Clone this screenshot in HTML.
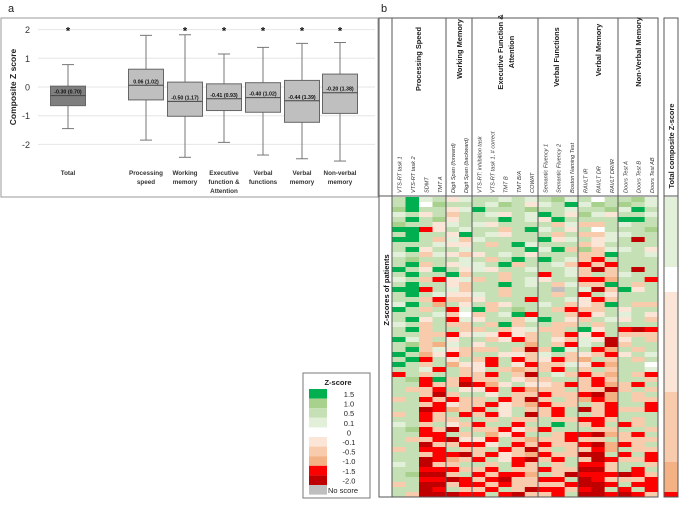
<!DOCTYPE html>
<html><head><meta charset="utf-8"><style>
html,body{margin:0;padding:0;background:#fff;width:685px;height:505px;overflow:hidden}
svg{display:block;font-family:"Liberation Sans",sans-serif}
</style></head><body>
<svg id="fig" width="685" height="505" viewBox="0 0 685 505">
<text x="8" y="12" font-size="11" fill="#222">a</text>
<text x="381" y="12" font-size="11" fill="#222">b</text>
<rect x="1" y="18" width="377" height="179" fill="#fff" stroke="#999" stroke-width="1"/>
<g id="boxplot"></g>
<g id="heat"></g>
<g id="legend"></g>
</svg>
<script>
// ---- Panel a data ----
const categories = [["Total"],["Processing","speed"],["Working","memory"],["Executive","function &","Attention"],["Verbal","functions"],["Verbal","memory"],["Non-verbal","memory"]];
const whiskerHigh = [0.78, 1.8, 1.82, 1.15, 1.38, 1.52, 1.55];
const q3Values = [0.03, 0.62, 0.17, 0.11, 0.15, 0.23, 0.45];
const medianValues = [-0.30, 0.06, -0.50, -0.41, -0.37, -0.48, -0.20];
const q1Values = [-0.65, -0.45, -1.02, -0.82, -0.88, -1.23, -0.92];
const whiskerLow = [-1.45, -1.85, -2.45, -1.93, -2.37, -2.5, -2.58];
const boxLabels = ["-0.30 (0.70)","0.06 (1.02)","-0.50 (1.17)","-0.41 (0.93)","-0.40 (1.02)","-0.44 (1.39)","-0.20 (1.38)"];
const significant = [true,false,true,true,true,true,true];
const yTicks = [2,1,0,-1,-2];

// ---- Panel b data ----
const groupNames = [["Processing Speed"],["Working Memory"],["Executive Function &","Attention"],["Verbal Functions"],["Verbal Memory"],["Non-Verbal Memory"]];
const groupSizes = [4,2,5,3,3,3];
const colNames = ["VTS-RT task 1","VTS-RT task 2","SDMT","TMT A","Digit Span (forward)","Digit Span (backward)","VTS-RT: inhibition task","VTS-RT task 1, # correct","TMT B","TMT B/A","COWAT","Semantic Fluency 1","Semantic Fluency 2","Boston Naming Test","RAVLT IR","RAVLT DR","RAVLT DR/IR","Doors Test A","Doors Test B","Doors Test AB"];
const legendLevels = ["G","g","h","i","w","a","b","c","R","D","x"];
const legendLabels = ["1.5","1.0","0.5","0.1","0","-0.1","-0.5","-1.0","-1.5","-2.0","No score"];
const heatRows = [
"hGih ai hhihi hgi hwh hgi","hGwg hh higha ihG igh ghi","gGhh ai Ghhhg hhi hhg iGh","ihah bh hiahi Gha gia hhi",
"hGhg ah hhGhi aGh hhh GGh","ghha ih iahhh hbi bbh ihh","GGRa hi hhbhG iha hwh hhg","hGhh aG hiahh hbh bbi ihh",
"GGhb ib ihhhh Gai hai hDh","hhhi aa hbhGi hhh bah hhh","hGah hi hhhhG iGb gbi iha","ihbi ab ahiha hhh bbG hhi",
"hghh hi hbhGh Ghi bRh hhh","hGbh ai ihGbh hib RbR hhh","GhaG ha iahhi hhi bDb hDh","hGhh Gb hhbhh Rhi bhb ihh",
"ihbR ai bhbhi ahh RRc hhR","hGhh ab hhGhi hbi bbG hbh","GGRh ib hhbhh hxh iDb Gah","hGhi aa ihbhh hbh Rha hhh",
"hhbR bb ahhhR hhi aRb hhh","iGhc ha hbahh ihb abG hbb","Ghbh Ri Gbhgh hbR bbh ahh","hhhi bw bhiGR hhb Rah iha",
"hGah Ri ahhbi Gha bhi ahb","ihbh bb hbGbh hbb hbh hhh","hGbh hb bhbai bbh Gah RDR","hhbb Ra iaRab hbR aRh bbb",
"Gibh ah hbaRb hab iaD ahb","hgbc ih ahhhc hbR ihD bhh","hGbi ab bbhbD bGi hRc hbh","Ghca Rb hhaab ihb abR ahi",
"hGRh ah bRhRb aRb chb hbh","Ghbh ca aRhaR bbi aRc hhw","hhiR hb ahbcb bRh bhb hhi","Rhbh hb bRhbD hib Rbc hbR",
"hgRG bR bbhab bhh bRb hhb","hhRb bD Rcaha abR bRc bRh","hbbR ha aRhRc bbh bbD bhb","hhbD bh hahbb Rbb RDc hbh",
"bhRb Rb bhRbD bhb cRc hbb","hhbR ab bRabc Rbb hbR hhR","hhDR cb Rhahb bRh DbR bbR","bhRb hR bRahD bRh hbR hhh",
"hhRb bh hbhbb hbb RRb hbh","ihbh ab RhhRh hGh bRh Rbh","hgRb Dh bbRab Rhh hbb hhb","hhRR hb hcaRh hbR RDc bRh",
"hbbR Da aRhbc bbR bbh bbb","hhDb bR RahRb Rbb RDc Rbh","bhRR hb bhRbD bhb bRc hbb","hhbR RD bRabc Rbb DDh RhR",
"hhDR cb RhaRD bRh bDR bbR","ihDb bh hbhRb hbh RRb hhb","hhRR Rb bRhbb Rbb DDb hRh","hgDD bh RbRRc hbD RRR DRb",
"hhRR DR bRDbb RRh DRb bbR","bhDD bR RbRbb bbR DDR hRR","hhDR hb bRhbD RRb RDh RhR","hbDD DR RhRDb bRh DDR DRb"];
const totalBands = ["i","i","i","i","i","i","i","i","i","i","i","i","i","i","w","w","w","w","w","a","a","a","a","a","a","a","a","a","a","a","a","a","a","a","a","a","a","a","a","b","b","b","b","b","b","b","b","b","b","b","b","b","b","c","c","c","c","c","c","R"];

const NS="http://www.w3.org/2000/svg";
function mk(tag, attrs, parent, text){const e=document.createElementNS(NS,tag);for(const k in attrs)e.setAttribute(k,attrs[k]);if(text!==undefined)e.textContent=text;parent.appendChild(e);return e;}
const colorMap={G:"#00b050",g:"#a9d18e",h:"#c5e0b4",i:"#e2f0d9",w:"#ffffff",a:"#fbe5d6",b:"#f8cbad",c:"#f4b183",R:"#ff0000",D:"#c00000",x:"#bfbfbf"};

// ---- Panel a ----
const bp=document.getElementById("boxplot");
const yScale=v=>87-v*28.7;
const xCenters=[68,146,185,224,263,302,340];
const xPos=i=>xCenters[i];
yTicks.forEach(t=>{
  const l=mk("line",{x1:38,x2:375,y1:yScale(t),y2:yScale(t),stroke:"#e6e6e6","stroke-width":1},bp);
  
  
  const tx=mk("text",{x:30,y:yScale(t)+3.5,"font-size":9,"text-anchor":"end",fill:"#333"},bp,String(t));
  
  
});
const yt=mk("text",{x:0,y:0,"font-size":8.5,"font-weight":"bold","text-anchor":"middle",fill:"#222",transform:"translate(16,87) rotate(-90)"},bp,"Composite Z score");


categories.forEach((c,i)=>{
  const x=xPos(i),w=35;
  const g=mk("g",{},bp);
  
  
  mk("line",{x1:x,x2:x,y1:yScale(whiskerHigh[i]),y2:yScale(q3Values[i]),stroke:"#777"},g);
  mk("line",{x1:x,x2:x,y1:yScale(q1Values[i]),y2:yScale(whiskerLow[i]),stroke:"#777"},g);
  mk("line",{x1:x-6,x2:x+6,y1:yScale(whiskerHigh[i]),y2:yScale(whiskerHigh[i]),stroke:"#777"},g);
  mk("line",{x1:x-6,x2:x+6,y1:yScale(whiskerLow[i]),y2:yScale(whiskerLow[i]),stroke:"#777"},g);
  mk("rect",{x:x-w/2,y:yScale(q3Values[i]),width:w,height:yScale(q1Values[i])-yScale(q3Values[i]),fill:i===0?"#7f7f7f":"#bfbfbf",stroke:"#666"},g);
  mk("line",{x1:x-w/2,x2:x+w/2,y1:yScale(medianValues[i]),y2:yScale(medianValues[i]),stroke:"#444"},g);
  mk("text",{x:x,y:yScale(medianValues[i])-2,"font-size":5.3,"font-weight":"bold","text-anchor":"middle",fill:"#111"},g,boxLabels[i]);
  if(significant[i]) mk("text",{x:x,y:yScale(2)+5,"font-size":11,"font-weight":"bold","text-anchor":"middle",fill:"#111"},g,"*");
  c.forEach((line,j)=>{
    const t=mk("text",{x:x,y:175+j*9,"font-size":6.3,"font-weight":"bold","text-anchor":"middle",fill:"#333"},bp,line);
    
    
  });
});

// ---- Panel b ----
const hm=document.getElementById("heat");
const bounds=[392,446,472,538,578,618,658];
const colX=[];
groupSizes.forEach((n,gi)=>{const w=(bounds[gi+1]-bounds[gi])/n;for(let k=0;k<n;k++)colX.push([bounds[gi]+k*w,w]);});
const heatTop=197,heatBot=497,rowH=(heatBot-heatTop)/heatRows.length;
heatRows.forEach((r,ri)=>{
  const s=r.replace(/ /g,"");
  for(let ci=0;ci<s.length;ci++){
    const c=mk("rect",{x:colX[ci][0],y:heatTop+ri*rowH,width:colX[ci][1]+0.3,height:rowH+0.3,fill:colorMap[s[ci]]},hm);
    
    
  }
});
const bandH=(heatBot-heatTop)/totalBands.length;
totalBands.forEach((b,ri)=>{
  const c=mk("rect",{x:664,y:heatTop+ri*bandH,width:14,height:bandH+0.3,fill:colorMap[b]},hm);
  
  
});
mk("rect",{x:379,y:18,width:279,height:479,fill:"none",stroke:"#555"},hm);
mk("rect",{x:664,y:18,width:14,height:479,fill:"none",stroke:"#555"},hm);
mk("line",{x1:379,x2:658,y1:196,y2:196,stroke:"#555"},hm);
mk("line",{x1:664,x2:678,y1:196,y2:196,stroke:"#555"},hm);
bounds.slice(0,6).forEach(b=>mk("line",{x1:b,x2:b,y1:18,y2:497,stroke:"#555"},hm));
const perGroup=[[0,1,2,3],[4,5],[6,7,8,9,10],[11,12,13],[14,15,16],[17,18,19]];
perGroup.forEach((ids,gi)=>{
  const n=groupSizes[gi],w=(bounds[gi+1]-bounds[gi])/n;
  ids.forEach((id,k)=>{
    const x=bounds[gi]+k*w+w*0.55;
    const t=mk("text",{x:0,y:0,"font-size":5.6,"font-style":"italic",fill:"#333",transform:`translate(${x+2},193) rotate(-90)`},hm,colNames[id]);
    
    
  });
});
const gx=[[418],[459],[500,511],[556],[598],[638]];
const gy=[59,49,52,57,50,52];
groupNames.forEach((lines,gi)=>{
  lines.forEach((ln,j)=>{
    const t=mk("text",{x:0,y:0,"font-size":7.4,"font-weight":"bold","text-anchor":"middle",fill:"#222",transform:`translate(${gx[gi][j]+3},${gy[gi]}) rotate(-90)`},hm,ln);
    
    
  });
});
const tt=mk("text",{x:0,y:0,"font-size":7.4,"font-weight":"bold","text-anchor":"middle",fill:"#222",transform:"translate(674,146) rotate(-90)"},hm,"Total composite Z-score");


const pl=mk("text",{x:0,y:0,"font-size":7.5,"font-weight":"bold","text-anchor":"middle",fill:"#111",transform:"translate(389,290) rotate(-90)"},hm,"Z-scores of patients");



// ---- Legend ----
const lg=document.getElementById("legend");
mk("rect",{x:303,y:373,width:67,height:125,fill:"#fff",stroke:"#777"},lg);
mk("text",{x:338,y:385,"font-size":7.5,"font-weight":"bold","text-anchor":"middle",fill:"#222"},lg,"Z-score");
legendLevels.forEach((lv,i)=>{
  const y=389+i*9.6;
  if(lv!=="w"){
    const r=mk("rect",{x:309,y:y,width:18,height:9.6,fill:colorMap[lv]},lg);
    
    
  }
  const t=mk("text",{x:lv==="x"?328:349,y:y+8,"font-size":7.5,"text-anchor":lv==="x"?"start":"middle",fill:"#222"},lg,legendLabels[i]);
  
  
});
</script>
</body></html>
